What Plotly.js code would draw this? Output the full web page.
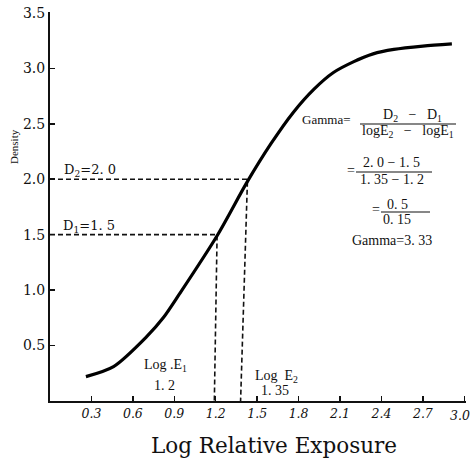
<!DOCTYPE html>
<html><head><meta charset="utf-8">
<script src="https://cdn.plot.ly/plotly-3.0.1.min.js"></script>
<style>html,body{margin:0;padding:0;background:#fff;}#chart{width:473px;height:463px;}</style>
</head><body><div id="chart"></div>
<script>
// Characteristic (H&D) curve
const logExposure = [0.26, 0.46, 0.70, 0.82, 0.94, 1.21, 1.43, 1.60, 1.76, 1.91, 2.05, 2.20, 2.34, 2.49, 2.70, 2.91];
const density     = [0.22, 0.31, 0.58, 0.75, 0.97, 1.49, 1.98, 2.32, 2.60, 2.81, 2.96, 3.06, 3.13, 3.17, 3.20, 3.22];

// Dashed construction lines (D1 / log E1 and D2 / log E2)
const d1GuideX = [0, 1.21, 1.19];
const d1GuideY = [1.5, 1.5, 0];
const d2GuideX = [0, 1.43, 1.38];
const d2GuideY = [2.0, 2.0, 0];

// Tick labels
const xTickVals = [0.3, 0.6, 0.9, 1.2, 1.5, 1.8, 2.1, 2.4, 2.7, 3.0];
const xTickText = ['0.3', '0.6', '0.9', '1.2', '1.5', '1.8', '2.1', '2.4', '2.7', '3.0'];
const yTickVals = [0.5, 1.0, 1.5, 2.0, 2.5, 3.0, 3.5];
const yTickText = ['0.5', '1.0', '1.5', '2.0', '2.5', '3.0', '3.5'];

const W = 473, H = 463;
const M = {l: 50, r: 7, t: 12, b: 62};
const PW = W - M.l - M.r, PH = H - M.t - M.b;
function px(x) { return (x - M.l) / PW; }
function py(y) { return (H - M.b - y) / PH; }

const SERIF = 'DejaVu Serif, serif';
const TSERIF = 'Liberation Serif, serif';

function note(text, x, y, size, family, extra) {
  return Object.assign({
    text: text, xref: 'paper', yref: 'paper', x: px(x), y: py(y),
    xanchor: 'center', yanchor: 'middle', showarrow: false,
    font: {family: family || SERIF, size: size || 12, color: '#111'}
  }, extra || {});
}
function bar(x0, x1, y) {
  return {type: 'line', xref: 'paper', yref: 'paper', x0: px(x0), x1: px(x1), y0: py(y), y1: py(y),
          line: {color: '#111', width: 1.2}};
}

const dashStyle = {color: '#111', width: 1.6, dash: '5px,3px'};

const traces = [
  {x: d1GuideX, y: d1GuideY, mode: 'lines', line: dashStyle, hoverinfo: 'skip', showlegend: false},
  {x: d2GuideX, y: d2GuideY, mode: 'lines', line: dashStyle, hoverinfo: 'skip', showlegend: false},
  {x: logExposure, y: density, mode: 'lines', line: {color: '#000', width: 3.2, shape: 'spline', smoothing: 0.8}, showlegend: false}
];

// the last x tick label sits against the right edge of the picture, so it is drawn as a right-anchored note
const lastX = xTickText.length - 1;
const xTickTextShown = xTickText.map((t, i) => i === lastX ? '' : t);

const annotations = [
  {text: xTickText[lastX], xref: 'x', yref: 'paper', x: xTickVals[lastX], y: 0, xanchor: 'right', yanchor: 'top',
   xshift: 472 - (M.l + PW * xTickVals[lastX] / (PW / 138.1)) , yshift: -5, showarrow: false,
   font: {family: SERIF, size: 12.5, color: '#111', style: 'italic'}},
  note('Log Relative Exposure', 274, 445, 21.5, SERIF),
  note('Density', 14, 147, 11, TSERIF, {textangle: -90}),
  note('D<sub>2</sub>=2. 0', 90, 170, 13, SERIF),
  note('D<sub>1</sub>=1. 5', 89, 226, 13, SERIF),
  note('Log .E<sub>1</sub>', 165, 365, 14, TSERIF),
  note('1. 2', 164, 385, 14, TSERIF),
  note('Log  E<sub>2</sub>', 276, 376, 14, TSERIF),
  note('1. 35', 275, 390, 14, TSERIF),
  note('Gamma=', 300, 119, 13, TSERIF, {xanchor: 'left'}),
  note('D<sub>2</sub>   −   D<sub>1</sub>', 412, 116, 14, TSERIF),
  note('logE<sub>2</sub>   −   logE<sub>1</sub>', 408, 131, 14, TSERIF),
  note('=', 351, 170, 14, TSERIF),
  note('2. 0 − 1. 5', 391, 162, 14, TSERIF),
  note('1. 35 − 1. 2', 392, 179, 14, TSERIF),
  note('=', 376, 210, 14, TSERIF),
  note('0. 5', 397, 204, 14, TSERIF),
  note('0. 15', 397, 219, 14, TSERIF),
  note('Gamma=3. 33', 392, 240, 14, TSERIF)
];

const shapes = [bar(360, 456, 124), bar(356, 432, 172), bar(381, 430, 212)];

const layout = {
  width: W, height: H,
  margin: M,
  paper_bgcolor: '#fff', plot_bgcolor: '#fff',
  showlegend: false,
  xaxis: {
    range: [0, PW / 138.1], showgrid: false, zeroline: false,
    showline: true, linecolor: '#111', linewidth: 2,
    ticks: 'inside', ticklen: 5, tickwidth: 1.5, tickcolor: '#111',
    tickvals: xTickVals, ticktext: xTickTextShown,
    tickfont: {family: SERIF, size: 12.5, color: '#111', style: 'italic'}
  },
  yaxis: {
    range: [0, PH / 110.9], showgrid: false, zeroline: false,
    showline: true, linecolor: '#111', linewidth: 2,
    ticks: 'inside', ticklen: 5, tickwidth: 1.5, tickcolor: '#111',
    tickvals: yTickVals, ticktext: yTickText,
    tickfont: {family: SERIF, size: 14, color: '#111'}
  },
  annotations: annotations,
  shapes: shapes
};

Plotly.newPlot('chart', traces, layout, {displayModeBar: false, staticPlot: true});
</script>
</body></html>
